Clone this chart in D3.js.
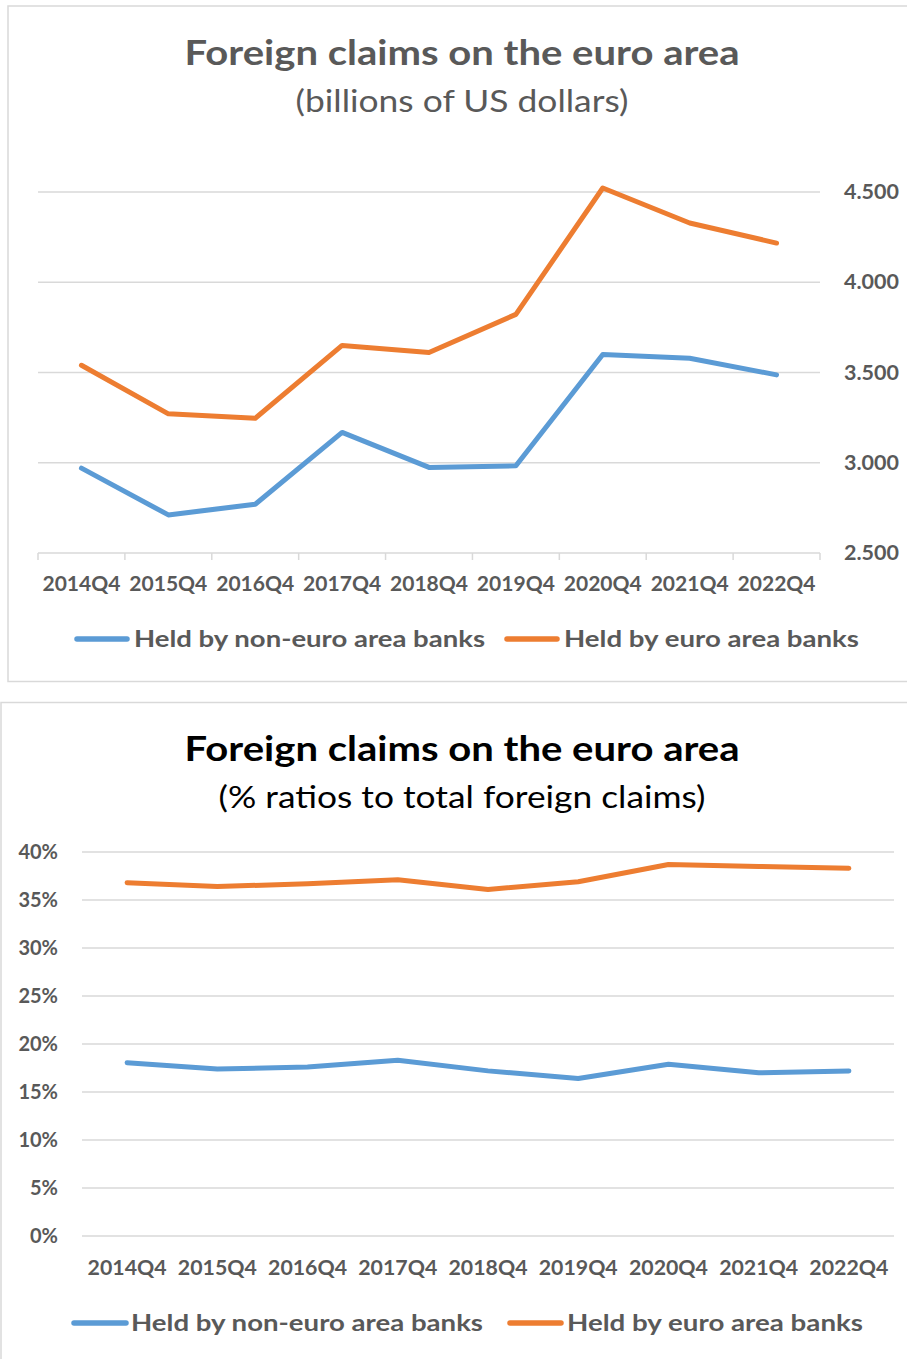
<!DOCTYPE html>
<html>
<head>
<meta charset="utf-8">
<script src="https://cdn.jsdelivr.net/npm/d3@7"></script>
<style>
  html, body { margin: 0; padding: 0; background: #fff; }
  svg { display: block; }
  text { font-family: Lato, "Open Sans", sans-serif; }
</style>
</head>
<body>
<svg id="chart" width="907" height="1359"></svg>
<script>
// ---- Data ----
const categories = ["2014Q4","2015Q4","2016Q4","2017Q4","2018Q4","2019Q4","2020Q4","2021Q4","2022Q4"];

// Chart 1: billions of US dollars
const nonEuroBillions = [2970, 2711, 2770, 3168, 2974, 2983, 3600, 3579, 3487];
const euroBillions    = [3540, 3271, 3246, 3650, 3611, 3822, 4522, 4328, 4217];
const billionsTicks   = [2500, 3000, 3500, 4000, 4500];

// Chart 2: % ratios to total foreign claims
const nonEuroPct = [18.05, 17.4, 17.6, 18.3, 17.2, 16.4, 17.9, 17.0, 17.2];
const euroPct    = [36.8, 36.4, 36.7, 37.1, 36.1, 36.9, 38.7, 38.5, 38.3];
const pctTicks   = [0, 5, 10, 15, 20, 25, 30, 35, 40];

const seriesNames = ["Held by non-euro area banks", "Held by euro area banks"];
const colors = ["#5B9BD5", "#ED7D31"];
const gridColor = "#d9d9d9";
const labelColor = "#595959";

const svg = d3.select("#chart");

// stretch text horizontally to the reference footprint
function fit(sel, len) {
  sel.attr("textLength", len).attr("lengthAdjust", "spacingAndGlyphs");
  return sel;
}

function drawLegend(g, y, items) {
  items.forEach(it => {
    g.append("line")
      .attr("x1", it.lx1).attr("x2", it.lx2)
      .attr("y1", y).attr("y2", y)
      .attr("stroke", it.color).attr("stroke-width", 5.5)
      .attr("stroke-linecap", "round");
    fit(g.append("text")
      .attr("x", it.tx).attr("y", y + 8)
      .attr("font-size", 23).attr("font-weight", 700)
      .attr("fill", labelColor)
      .text(it.name), it.len);
  });
}

// ================= Chart 1 =================
{
  const g = svg.append("g");
  g.append("rect")
    .attr("x", 8).attr("y", 6).attr("width", 910).attr("height", 675.5)
    .attr("fill", "none").attr("stroke", gridColor).attr("stroke-width", 1.5);

  fit(g.append("text").attr("x", 462).attr("y", 65)
    .attr("text-anchor", "middle").attr("font-size", 34).attr("font-weight", 700)
    .attr("fill", labelColor).text("Foreign claims on the euro area"), 555);
  fit(g.append("text").attr("x", 462).attr("y", 112)
    .attr("text-anchor", "middle").attr("font-size", 30).attr("font-weight", 400)
    .attr("fill", labelColor).text("(billions of US dollars)"), 333);

  const x = d3.scaleBand().domain(categories).range([38, 820]);
  const y = d3.scaleLinear().domain([2500, 4500]).range([553, 192]);

  // gridlines
  g.append("g").selectAll("line").data(billionsTicks.filter(d => d !== 2500)).join("line")
    .attr("x1", 38).attr("x2", 820)
    .attr("y1", d => y(d)).attr("y2", d => y(d))
    .attr("stroke", gridColor).attr("stroke-width", 1.5);

  // x axis with ticks at band boundaries
  const xAxis = g.append("g").attr("transform", `translate(0,${y(2500)})`);
  xAxis.append("line").attr("x1", 38).attr("x2", 820)
    .attr("stroke", gridColor).attr("stroke-width", 1.5);
  const bounds = categories.map(c => x(c)).concat([x(categories[categories.length-1]) + x.bandwidth()]);
  xAxis.selectAll("line.tick").data(bounds).join("line").attr("class", "tick")
    .attr("x1", d => d).attr("x2", d => d).attr("y1", 0).attr("y2", 7)
    .attr("stroke", gridColor).attr("stroke-width", 1.5);
  fit(xAxis.selectAll("text").data(categories).join("text")
    .attr("x", d => x(d) + x.bandwidth() / 2).attr("y", 38)
    .attr("text-anchor", "middle").attr("font-size", 20).attr("font-weight", 700)
    .attr("fill", labelColor).text(d => d), 78);

  // y labels on the right
  const fmt = d => d3.format(",")(d).replace(",", ".");
  fit(g.append("g").selectAll("text").data(billionsTicks).join("text")
    .attr("x", 844).attr("y", d => y(d)).attr("dy", "0.35em")
    .attr("font-size", 20).attr("font-weight", 700)
    .attr("fill", labelColor).text(fmt), 55);

  const line = d3.line().x((d, i) => x(categories[i]) + x.bandwidth() / 2).y(d => y(d));
  [nonEuroBillions, euroBillions].forEach((s, k) => {
    g.append("path").datum(s).attr("d", line)
      .attr("fill", "none").attr("stroke", colors[k]).attr("stroke-width", 5)
      .attr("stroke-linejoin", "round").attr("stroke-linecap", "round");
  });

  drawLegend(g, 639, [
    { name: seriesNames[0], color: colors[0], lx1: 77, lx2: 127, tx: 134, len: 351 },
    { name: seriesNames[1], color: colors[1], lx1: 507, lx2: 557, tx: 564, len: 295 }
  ]);
}

// ================= Chart 2 =================
{
  const g = svg.append("g");
  g.append("rect")
    .attr("x", 1).attr("y", 702.5).attr("width", 915).attr("height", 700)
    .attr("fill", "none").attr("stroke", gridColor).attr("stroke-width", 1.5);

  fit(g.append("text").attr("x", 462).attr("y", 761)
    .attr("text-anchor", "middle").attr("font-size", 34).attr("font-weight", 700)
    .attr("fill", "#000").text("Foreign claims on the euro area"), 555);
  fit(g.append("text").attr("x", 462).attr("y", 808)
    .attr("text-anchor", "middle").attr("font-size", 30).attr("font-weight", 400)
    .attr("fill", "#000").text("(% ratios to total foreign claims)"), 487);

  const x = d3.scaleBand().domain(categories).range([82, 894]);
  const y = d3.scaleLinear().domain([0, 40]).range([1236, 852]);

  g.append("g").selectAll("line").data(pctTicks).join("line")
    .attr("x1", 82).attr("x2", 894)
    .attr("y1", d => y(d)).attr("y2", d => y(d))
    .attr("stroke", gridColor).attr("stroke-width", 1.5);

  g.append("g").selectAll("text").data(pctTicks).join("text")
    .attr("x", 58).attr("y", d => y(d)).attr("dy", "0.35em")
    .attr("text-anchor", "end").attr("font-size", 20).attr("font-weight", 700)
    .attr("fill", labelColor).text(d => d + "%");

  fit(g.append("g").selectAll("text").data(categories).join("text")
    .attr("x", d => x(d) + x.bandwidth() / 2).attr("y", 1275)
    .attr("text-anchor", "middle").attr("font-size", 20).attr("font-weight", 700)
    .attr("fill", labelColor).text(d => d), 79);

  const line = d3.line().x((d, i) => x(categories[i]) + x.bandwidth() / 2).y(d => y(d));
  [nonEuroPct, euroPct].forEach((s, k) => {
    g.append("path").datum(s).attr("d", line)
      .attr("fill", "none").attr("stroke", colors[k]).attr("stroke-width", 5)
      .attr("stroke-linejoin", "round").attr("stroke-linecap", "round");
  });

  drawLegend(g, 1323, [
    { name: seriesNames[0], color: colors[0], lx1: 74, lx2: 126, tx: 131, len: 352 },
    { name: seriesNames[1], color: colors[1], lx1: 510, lx2: 561, tx: 567, len: 296 }
  ]);
}
</script>
</body>
</html>
